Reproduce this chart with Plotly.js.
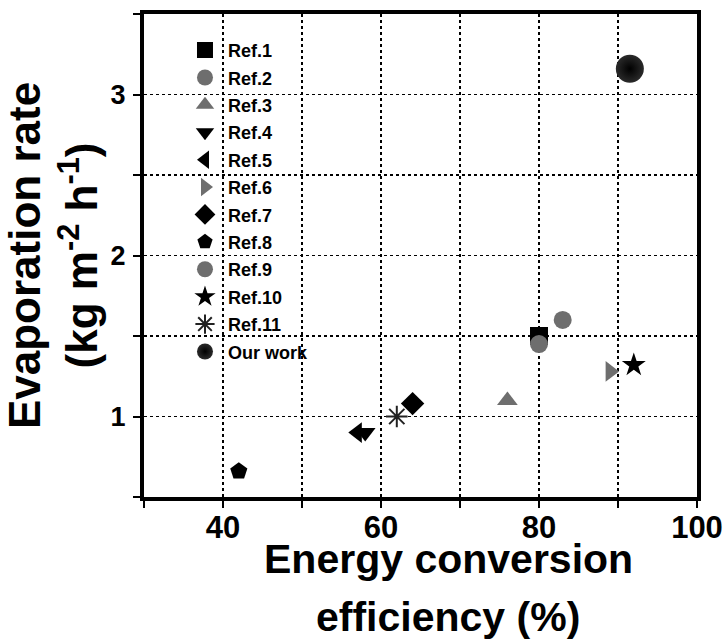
<!DOCTYPE html>
<html><head><meta charset="utf-8">
<script src="https://cdn.plot.ly/plotly-3.0.1.min.js"></script>
<style>html,body{margin:0;padding:0;background:#fff}</style>
</head><body>
<div id="chart" style="width:723px;height:640px"></div>
<script>
// Data
const seriesNames = ['Ref.1','Ref.2','Ref.3','Ref.4','Ref.5','Ref.6','Ref.7','Ref.8','Ref.9','Ref.10','Ref.11','Our work'];
const efficiency  = [80, 83, 76, 58, 57, 89, 64, 42, 80, 92, 62, 91.5];   // %
const evaporation = [1.5, 1.6, 1.1, 0.9, 0.9, 1.28, 1.08, 0.66, 1.45, 1.32, 1.0, 3.16]; // kg m-2 h-1
const xTickVals = [40, 60, 80, 100];
const yTickVals = [1, 2, 3];
const xTitleLines = ['Energy conversion', 'efficiency (%)'];
const yTitleText = 'Evaporation rate<br>(kg m<sup>-2</sup> h<sup>-1</sup>)';

// Styles
const symbols = ['square','circle','triangle-up','triangle-down','triangle-left','triangle-right','diamond','pentagon','circle','star','asterisk-open','circle'];
const BLACK = '#000000', GRAY = '#6e6e6e';
const colors  = [BLACK, GRAY, GRAY, BLACK, BLACK, GRAY, BLACK, BLACK, GRAY, BLACK, '#222222', '#2a2a2a'];
const FONT = 'Liberation Sans, Arial, sans-serif';

const traces = seriesNames.map((name, i) => {
  const isOurs = name === 'Our work';
  const marker = {
    symbol: symbols[i],
    color: colors[i],
    size: isOurs ? 28 : 18,
    line: symbols[i] === 'asterisk-open' ? {color: colors[i], width: 2} : {width: 0}
  };
  if (isOurs) marker.gradient = {type: 'radial', color: '#000000'};
  return {
    type: 'scatter', mode: 'markers', name: name,
    x: [efficiency[i]], y: [evaporation[i]],
    legendgroup: 'g' + i,
    marker: marker
  };
});

const layout = {
  width: 723, height: 640,
  margin: {l: 144, r: 26, t: 14, b: 143},
  paper_bgcolor: '#ffffff', plot_bgcolor: '#ffffff',
  font: {family: FONT, color: '#000'},
  showlegend: true,
  legend: {
    x: 0.0687, y: 0.963, xanchor: 'left', yanchor: 'top',
    bgcolor: 'rgba(0,0,0,0)', borderwidth: 0,
    font: {family: FONT, size: 18, weight: 'bold', color: '#000'},
    tracegroupgap: 1, itemsizing: 'trace', itemwidth: 36
  },
  xaxis: {
    range: [30, 100],
    tickvals: xTickVals, ticktext: xTickVals.map(String),
    ticks: 'outside', ticklen: 7, tickwidth: 2, tickcolor: '#000',
    tickfont: {size: 31, weight: 'bold', family: FONT},
    ticklabelstandoff: -7,
    showline: true, linewidth: 4, linecolor: '#000', mirror: true,
    showgrid: true, gridcolor: '#000', gridwidth: 1.2, griddash: 'dot',
    minor: {dtick: 10, tick0: 0, ticks: 'outside', ticklen: 7, tickwidth: 2, tickcolor: '#000',
            showgrid: true, gridcolor: '#000', gridwidth: 1.2, griddash: 'dot'},
    zeroline: false
  },
  yaxis: {
    range: [0.5, 3.5],
    tickvals: yTickVals, ticktext: yTickVals.map(String),
    ticks: 'outside', ticklen: 7, tickwidth: 2, tickcolor: '#000',
    tickfont: {size: 27, weight: 'bold', family: FONT},
    ticklabelstandoff: 2,
    showline: true, linewidth: 4, linecolor: '#000', mirror: true,
    showgrid: true, gridcolor: '#000', gridwidth: 1.2, griddash: 'dot',
    minor: {dtick: 0.5, tick0: 0, ticks: 'outside', ticklen: 7, tickwidth: 2, tickcolor: '#000',
            showgrid: true, gridcolor: '#000', gridwidth: 1.2, griddash: 'dot'},
    zeroline: false,
    title: {text: yTitleText, standoff: 6,
            font: {family: FONT, size: 44, weight: 'bold', color: '#000'}}
  },
  annotations: [
    {text: xTitleLines[0], xref: 'paper', yref: 'paper', x: 0.55, y: -0.0767,
     xanchor: 'center', yanchor: 'top', showarrow: false,
     font: {family: FONT, size: 41, weight: 'bold', color: '#000'}},
    {text: xTitleLines[1], xref: 'paper', yref: 'paper', x: 0.55, y: -0.1957,
     xanchor: 'center', yanchor: 'top', showarrow: false,
     font: {family: FONT, size: 41, weight: 'bold', color: '#000'}}
  ]
};

Plotly.newPlot('chart', traces, layout, {displayModeBar: false, staticPlot: true});
</script>
</body></html>
